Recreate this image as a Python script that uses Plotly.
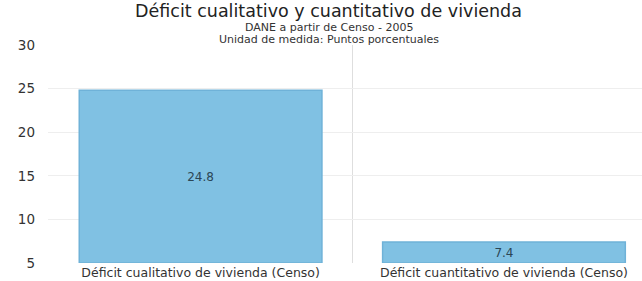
import plotly.graph_objects as go

categories = ["Déficit cualitativo de vivienda (Censo)", "Déficit cuantitativo de vivienda (Censo)"]
values = [24.8, 7.4]
value_labels = ["24.8", "7.4"]
y_ticks = [5, 10, 15, 20, 25, 30]
title = "Déficit cualitativo y cuantitativo de vivienda"
subtitles = ["DANE a partir de Censo - 2005", "Unidad de medida: Puntos porcentuales"]

FONT = "DejaVu Sans"
Y_MIN, Y_MAX = y_ticks[0], y_ticks[-1]

fig = go.Figure()
# bars drawn from the axis floor so labels sit in the middle of the visible part
fig.add_trace(go.Bar(
    x=categories,
    y=[v - Y_MIN for v in values],
    base=Y_MIN,
    text=value_labels,
    textposition="inside",
    insidetextanchor="middle",
    textfont=dict(size=12, color="#2b4655", family=FONT),
    marker=dict(color="#80c1e3", line=dict(color="#6fb2d8", width=1.5)),
    width=0.80,
    hoverinfo="skip",
))

fig.update_layout(
    width=642, height=281,
    margin=dict(l=48, r=0, t=45, b=18),
    paper_bgcolor="white", plot_bgcolor="white",
    showlegend=False,
    font=dict(family=FONT, color="#333333"),
    uniformtext=dict(minsize=12, mode="show"),
)
fig.add_annotation(text=title, xref="paper", yref="paper", x=0.473, y=1.156,
                   xanchor="center", yanchor="middle", showarrow=False,
                   font=dict(size=17.5, color="#222222", family=FONT))
for txt, yy in zip(subtitles, [1.078, 1.026]):
    fig.add_annotation(text=txt, xref="paper", yref="paper", x=0.473, y=yy,
                       xanchor="center", yanchor="middle", showarrow=False,
                       font=dict(size=11, color="#333333", family=FONT))

fig.update_xaxes(
    type="category",
    range=[-0.503, 1.455],
    tickson="boundaries",
    showgrid=True, gridcolor="#dedede", gridwidth=1,
    ticks="", tickfont=dict(size=12.5, color="#333333"),
    showline=False, zeroline=False,
)
fig.update_yaxes(
    range=[Y_MIN, Y_MAX],
    tickvals=y_ticks,
    showgrid=True, gridcolor="#eeeeee", gridwidth=1,
    tickfont=dict(size=13.5, color="#333333"),
    ticklabelstandoff=12,
    zeroline=False, showline=False,
)

fig.write_html("out.html", config={"displayModeBar": False},
               post_script="document.body.style.margin='0';document.body.style.overflow='hidden';")
